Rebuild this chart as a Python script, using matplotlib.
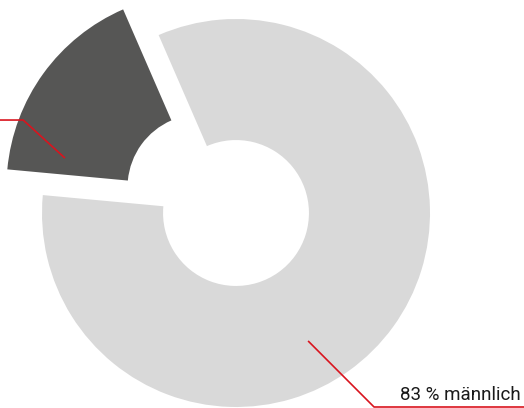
import matplotlib
matplotlib.use("Agg")
import matplotlib.pyplot as plt
import numpy as np

plt.rcParams["font.family"] = ["Roboto", "DejaVu Sans"]

# data
labels = ["17 % weiblich", "83 % männlich"]
shares = [17, 83]

DARK = "#565655"
LIGHT = "#d9d9d9"
RED = "#d9141e"
START = 113.5
EXPLODE = [0.226, 0.0]
WIDTH = 0.624
PX = 194.0  # pixels per data unit

fig = plt.figure(figsize=(5.24, 4.08), dpi=100)
ax = fig.add_axes([0, 0, 1, 1])

wedges, _ = ax.pie(
    shares,
    colors=[DARK, LIGHT],
    startangle=START,
    counterclock=True,
    explode=EXPLODE,
    radius=1,
    wedgeprops=dict(width=WIDTH, edgecolor="none", linewidth=0),
)

ax.set_xlim(-236 / PX, (524 - 236) / PX)
ax.set_ylim(-195 / PX, 213 / PX)
ax.set_aspect("equal")
ax.axis("off")


def polar(ang, r):
    a = np.deg2rad(ang)
    return r * np.cos(a), r * np.sin(a)


# left label (weiblich), leader line runs off the left edge
x0, y0 = polar(162.2, 0.926)
x1, y1 = polar(156.4, 1.197)
ax.plot([x0, x1, -1.6], [y0, y1, y1], color=RED, lw=1.2, solid_capstyle="butt",
        clip_on=False)
ax.text(-1.75, y1 + 0.03, labels[0], ha="right", va="baseline", fontsize=13.5,
        color="#1a1a1a")

# right label (männlich)
x0, y0 = polar(-60.6, 0.757)
x1, y1 = x0 + 0.34, -1.0
ax.plot([x0, x1, 1.6], [y0, y1, y1], color=RED, lw=1.2, solid_capstyle="butt",
        clip_on=False)
ax.text(1.466, -0.962, labels[1], ha="right", va="baseline", fontsize=13.5,
        color="#1a1a1a")

fig.savefig("out.png", dpi=100)
